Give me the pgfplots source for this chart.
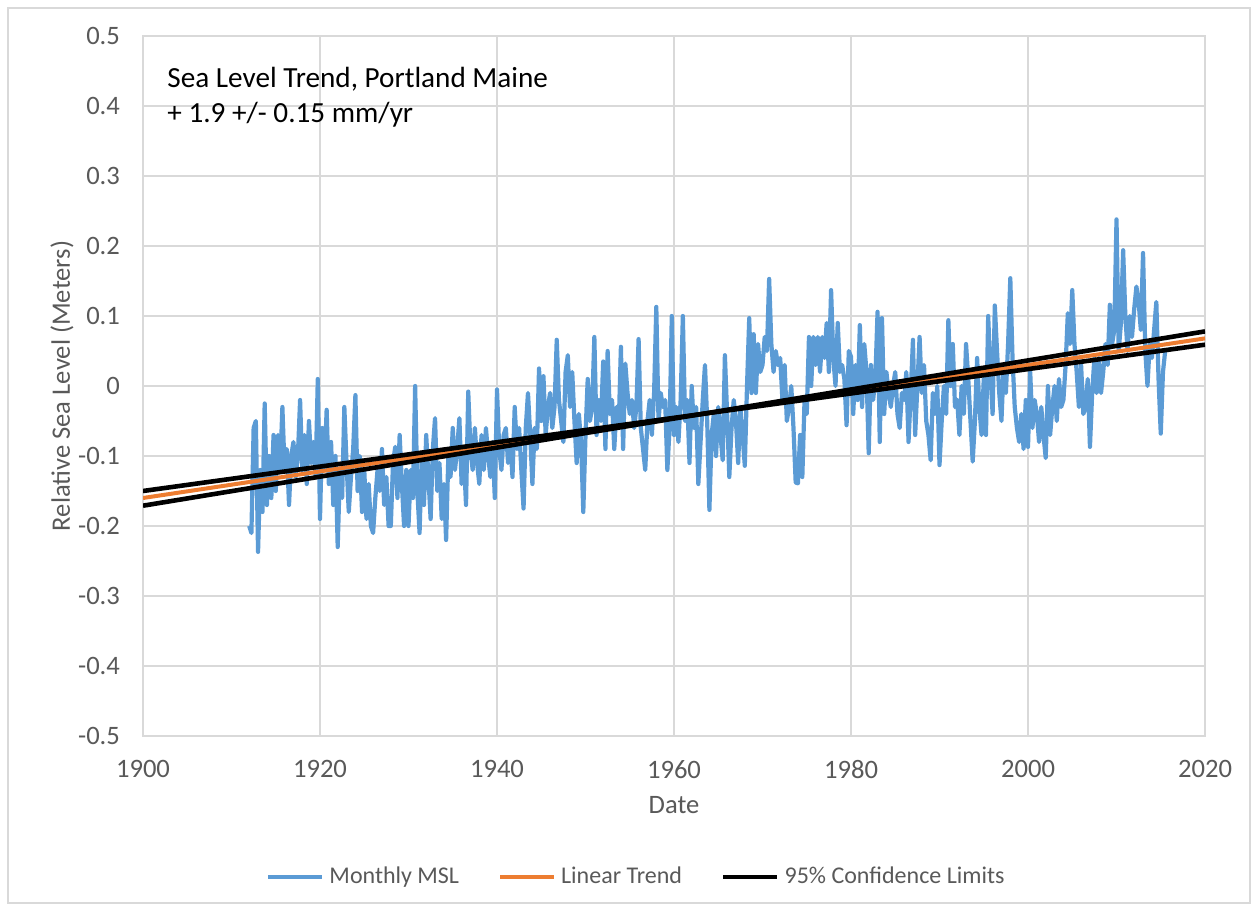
\documentclass[border=0pt]{standalone}
\usepackage{fontspec}
\setmainfont{Carlito}
\usepackage{pgfplots}
\pgfplotsset{compat=1.18}
\usepackage{pgfplotstable}

\definecolor{mslblue}{HTML}{5B9BD5}
\definecolor{trendorange}{HTML}{ED7D31}
\definecolor{gridgray}{HTML}{D9D9D9}
\definecolor{textgray}{HTML}{595959}

% monthly mean sea level (about four values a year)
\pgfplotstableread[row sep=\\]{
x y\\
1912.00 -0.20\\ 1912.25 -0.21\\ 1912.50 -0.06\\ 1912.75 -0.05\\
1913.00 -0.237\\ 1913.25 -0.12\\ 1913.50 -0.18\\ 1913.75 -0.025\\
1914.00 -0.17\\ 1914.25 -0.10\\ 1914.50 -0.16\\ 1914.75 -0.07\\
1915.00 -0.15\\ 1915.25 -0.07\\ 1915.50 -0.12\\ 1915.75 -0.03\\
1916.00 -0.12\\ 1916.25 -0.09\\ 1916.50 -0.17\\ 1916.75 -0.10\\
1917.00 -0.08\\ 1917.25 -0.13\\ 1917.50 -0.10\\ 1917.75 -0.02\\
1918.00 -0.12\\ 1918.25 -0.07\\ 1918.50 -0.14\\ 1918.75 -0.05\\
1919.00 -0.11\\ 1919.25 -0.08\\ 1919.50 -0.13\\ 1919.75 0.01\\
1920.00 -0.19\\ 1920.25 -0.06\\ 1920.50 -0.12\\ 1920.75 -0.034\\
1921.00 -0.14\\ 1921.25 -0.08\\ 1921.50 -0.17\\ 1921.75 -0.10\\
1922.00 -0.23\\ 1922.25 -0.12\\ 1922.50 -0.16\\ 1922.75 -0.03\\
1923.00 -0.11\\ 1923.25 -0.18\\ 1923.50 -0.13\\ 1923.75 -0.09\\
1924.00 -0.013\\ 1924.25 -0.15\\ 1924.50 -0.10\\ 1924.75 -0.18\\
1925.00 -0.12\\ 1925.25 -0.19\\ 1925.50 -0.14\\ 1925.75 -0.20\\
1926.00 -0.21\\ 1926.25 -0.16\\ 1926.50 -0.12\\ 1926.75 -0.15\\
1927.00 -0.09\\ 1927.25 -0.17\\ 1927.50 -0.13\\ 1927.75 -0.20\\
1928.00 -0.20\\ 1928.25 -0.11\\ 1928.50 -0.087\\ 1928.75 -0.16\\
1929.00 -0.07\\ 1929.25 -0.14\\ 1929.50 -0.20\\ 1929.75 -0.12\\
1930.00 -0.20\\ 1930.25 -0.12\\ 1930.50 -0.16\\ 1930.75 0.00\\
1931.00 -0.15\\ 1931.25 -0.21\\ 1931.50 -0.10\\ 1931.75 -0.17\\
1932.00 -0.07\\ 1932.25 -0.13\\ 1932.50 -0.19\\ 1932.75 -0.09\\
1933.00 -0.046\\ 1933.25 -0.15\\ 1933.50 -0.11\\ 1933.75 -0.19\\
1934.00 -0.14\\ 1934.25 -0.22\\ 1934.50 -0.10\\ 1934.75 -0.13\\
1935.00 -0.06\\ 1935.25 -0.12\\ 1935.50 -0.09\\ 1935.75 -0.046\\
1936.00 -0.14\\ 1936.25 -0.10\\ 1936.50 -0.17\\ 1936.75 -0.008\\
1937.00 -0.09\\ 1937.25 -0.12\\ 1937.50 -0.06\\ 1937.75 -0.11\\
1938.00 -0.14\\ 1938.25 -0.07\\ 1938.50 -0.12\\ 1938.75 -0.06\\
1939.00 -0.10\\ 1939.25 -0.13\\ 1939.50 -0.08\\ 1939.75 -0.16\\
1940.00 -0.005\\ 1940.25 -0.09\\ 1940.50 -0.12\\ 1940.75 -0.07\\
1941.00 -0.06\\ 1941.25 -0.11\\ 1941.50 -0.08\\ 1941.75 -0.13\\
1942.00 -0.03\\ 1942.25 -0.09\\ 1942.50 -0.06\\ 1942.75 -0.12\\
1943.00 -0.175\\ 1943.25 -0.06\\ 1943.50 -0.01\\ 1943.75 -0.07\\
1944.00 -0.14\\ 1944.25 -0.06\\ 1944.50 -0.09\\ 1944.75 0.025\\
1945.00 -0.05\\ 1945.25 0.014\\ 1945.50 -0.07\\ 1945.75 -0.03\\
1946.00 -0.01\\ 1946.25 -0.06\\ 1946.50 -0.03\\ 1946.75 0.066\\
1947.00 -0.02\\ 1947.25 -0.05\\ 1947.50 -0.08\\ 1947.75 0.02\\
1948.00 0.044\\ 1948.25 -0.03\\ 1948.50 0.02\\ 1948.75 -0.05\\
1949.00 -0.11\\ 1949.25 -0.04\\ 1949.50 -0.08\\ 1949.75 -0.18\\
1950.00 -0.07\\ 1950.25 0.01\\ 1950.50 -0.05\\ 1950.75 -0.03\\
1951.00 0.07\\ 1951.25 -0.07\\ 1951.50 -0.02\\ 1951.75 -0.05\\
1952.00 0.035\\ 1952.25 -0.09\\ 1952.50 0.05\\ 1952.75 -0.04\\
1953.00 -0.02\\ 1953.25 -0.09\\ 1953.50 -0.03\\ 1953.75 -0.06\\
1954.00 0.056\\ 1954.25 -0.09\\ 1954.50 0.032\\ 1954.75 -0.01\\
1955.00 -0.04\\ 1955.25 -0.02\\ 1955.50 -0.06\\ 1955.75 -0.03\\
1956.00 0.067\\ 1956.25 -0.06\\ 1956.50 -0.09\\ 1956.75 -0.12\\
1957.00 -0.05\\ 1957.25 -0.02\\ 1957.50 -0.07\\ 1957.75 -0.01\\
1958.00 0.113\\ 1958.25 -0.05\\ 1958.50 -0.01\\ 1958.75 -0.03\\
1959.00 -0.02\\ 1959.25 -0.12\\ 1959.50 -0.06\\ 1959.75 0.10\\
1960.00 -0.07\\ 1960.25 -0.03\\ 1960.50 -0.08\\ 1960.75 -0.02\\
1961.00 0.10\\ 1961.25 -0.05\\ 1961.50 -0.02\\ 1961.75 -0.11\\
1962.00 0.00\\ 1962.25 -0.06\\ 1962.50 -0.03\\ 1962.75 -0.14\\
1963.00 -0.08\\ 1963.25 -0.02\\ 1963.50 0.03\\ 1963.75 -0.05\\
1964.00 -0.177\\ 1964.25 -0.07\\ 1964.50 -0.04\\ 1964.75 -0.10\\
1965.00 -0.03\\ 1965.25 -0.07\\ 1965.50 -0.106\\ 1965.75 0.044\\
1966.00 -0.04\\ 1966.25 -0.13\\ 1966.50 -0.06\\ 1966.75 -0.02\\
1967.00 -0.05\\ 1967.25 -0.11\\ 1967.50 -0.03\\ 1967.75 -0.07\\
1968.00 -0.114\\ 1968.25 0.00\\ 1968.50 0.097\\ 1968.75 -0.01\\
1969.00 0.074\\ 1969.25 -0.01\\ 1969.50 0.06\\ 1969.75 0.02\\
1970.00 0.03\\ 1970.25 0.07\\ 1970.50 0.05\\ 1970.75 0.153\\
1971.00 0.06\\ 1971.25 0.02\\ 1971.50 0.05\\ 1971.75 0.03\\
1972.00 0.04\\ 1972.25 -0.02\\ 1972.50 0.03\\ 1972.75 -0.05\\
1973.00 -0.03\\ 1973.25 0.00\\ 1973.50 -0.06\\ 1973.75 -0.138\\
1974.00 -0.139\\ 1974.25 -0.07\\ 1974.50 -0.13\\ 1974.75 -0.02\\
1975.00 -0.04\\ 1975.25 0.07\\ 1975.50 0.00\\ 1975.75 0.07\\
1976.00 0.03\\ 1976.25 0.07\\ 1976.50 0.02\\ 1976.75 0.07\\
1977.00 0.04\\ 1977.25 0.09\\ 1977.50 0.02\\ 1977.75 0.137\\
1978.00 0.04\\ 1978.25 0.00\\ 1978.50 0.09\\ 1978.75 0.02\\
1979.00 0.03\\ 1979.25 0.01\\ 1979.50 -0.056\\ 1979.75 0.05\\
1980.00 0.042\\ 1980.25 -0.04\\ 1980.50 0.03\\ 1980.75 -0.02\\
1981.00 0.087\\ 1981.25 -0.03\\ 1981.50 0.06\\ 1981.75 0.02\\
1982.00 -0.096\\ 1982.25 0.03\\ 1982.50 -0.02\\ 1982.75 0.01\\
1983.00 0.106\\ 1983.25 -0.08\\ 1983.50 0.097\\ 1983.75 -0.04\\
1984.00 0.02\\ 1984.25 -0.01\\ 1984.50 -0.03\\ 1984.75 0.00\\
1985.00 0.02\\ 1985.25 -0.04\\ 1985.50 -0.06\\ 1985.75 -0.01\\
1986.00 -0.02\\ 1986.25 0.02\\ 1986.50 -0.08\\ 1986.75 -0.01\\
1987.00 0.066\\ 1987.25 -0.07\\ 1987.50 0.00\\ 1987.75 0.07\\
1988.00 -0.01\\ 1988.25 0.03\\ 1988.50 -0.05\\ 1988.75 -0.07\\
1989.00 -0.106\\ 1989.25 -0.01\\ 1989.50 -0.04\\ 1989.75 0.00\\
1990.00 -0.113\\ 1990.25 -0.05\\ 1990.50 0.00\\ 1990.75 -0.04\\
1991.00 0.094\\ 1991.25 0.00\\ 1991.50 0.06\\ 1991.75 -0.03\\
1992.00 -0.02\\ 1992.25 -0.07\\ 1992.50 0.00\\ 1992.75 -0.04\\
1993.00 0.06\\ 1993.25 0.01\\ 1993.50 -0.05\\ 1993.75 -0.108\\
1994.00 -0.05\\ 1994.25 0.04\\ 1994.50 -0.03\\ 1994.75 -0.07\\
1995.00 0.01\\ 1995.25 -0.07\\ 1995.50 0.10\\ 1995.75 0.02\\
1996.00 -0.04\\ 1996.25 0.115\\ 1996.50 0.05\\ 1996.75 -0.01\\
1997.00 -0.05\\ 1997.25 0.03\\ 1997.50 -0.01\\ 1997.75 0.06\\
1998.00 0.154\\ 1998.25 0.04\\ 1998.50 -0.03\\ 1998.75 -0.06\\
1999.00 -0.08\\ 1999.25 -0.04\\ 1999.50 -0.09\\ 1999.75 -0.02\\
2000.00 -0.087\\ 2000.25 0.02\\ 2000.50 -0.06\\ 2000.75 -0.02\\
2001.00 -0.04\\ 2001.25 -0.08\\ 2001.50 -0.03\\ 2001.75 -0.07\\
2002.00 -0.103\\ 2002.25 0.00\\ 2002.50 -0.07\\ 2002.75 -0.03\\
2003.00 0.00\\ 2003.25 -0.05\\ 2003.50 0.01\\ 2003.75 -0.03\\
2004.00 -0.02\\ 2004.25 0.03\\ 2004.50 0.104\\ 2004.75 0.06\\
2005.00 0.137\\ 2005.25 0.06\\ 2005.50 0.02\\ 2005.75 -0.03\\
2006.00 0.03\\ 2006.25 -0.04\\ 2006.50 -0.03\\ 2006.75 0.01\\
2007.00 -0.087\\ 2007.25 -0.01\\ 2007.50 0.04\\ 2007.75 -0.01\\
2008.00 0.04\\ 2008.25 -0.01\\ 2008.50 0.02\\ 2008.75 0.06\\
2009.00 0.03\\ 2009.25 0.116\\ 2009.50 0.06\\ 2009.75 0.08\\
2010.00 0.238\\ 2010.25 0.05\\ 2010.50 0.09\\ 2010.75 0.194\\
2011.00 0.10\\ 2011.25 0.05\\ 2011.50 0.10\\ 2011.75 0.07\\
2012.00 0.11\\ 2012.25 0.142\\ 2012.50 0.12\\ 2012.75 0.08\\
2013.00 0.19\\ 2013.25 0.05\\ 2013.50 0.00\\ 2013.75 0.06\\
2014.00 0.04\\ 2014.25 0.08\\ 2014.50 0.12\\ 2014.75 0.01\\
2015.00 -0.068\\ 2015.25 0.02\\ 2015.50 0.05\\
}\msl

\begin{document}
\begin{tikzpicture}
\useasboundingbox (-71.5pt,-87.5pt) rectangle (557.5pt,368pt);
\draw[gridgray, line width=0.8pt] (-67.5pt,-83.5pt) rectangle (553.5pt,364pt);
\begin{axis}[
    at={(0,0)}, anchor=south west,
    scale only axis,
    width=531pt, height=350pt,
    xmin=1900, xmax=2020, ymin=-0.5, ymax=0.5,
    xtick={1900,1920,...,2020},
    ytick={-0.5,-0.4,...,0.5},
    grid=major,
    major grid style={gridgray, line width=0.8pt},
    axis line style={gridgray, line width=0.8pt},
    tick style={draw=none},
    /pgf/number format/assume math mode=true,
    ticklabel style={font=\fontsize{13.3}{15}\selectfont, text=textgray},
    xticklabel style={/pgf/number format/1000 sep={}, yshift=-8.5pt},
    yticklabel style={/pgf/number format/fixed, /pgf/number format/precision=1, xshift=-8pt},
    xlabel={Date},
    ylabel={Relative Sea Level (Meters)},
    label style={font=\fontsize{13.3}{15}\selectfont, text=textgray},
    xlabel style={at={(axis description cs:0.5,-0.0986)}, anchor=center},
    ylabel style={at={(axis description cs:-0.0763,0.5)}, anchor=center},
    legend columns=3,
    legend style={at={(axis description cs:0.466,-0.2014)}, anchor=center,
        draw=none, fill=none, font=\fontsize{12}{14}\selectfont, text=textgray,
        /tikz/every even column/.append style={column sep=17pt},
        nodes={inner sep=2.5pt}},
    legend image code/.code={\draw[#1] (0pt,0pt) -- (27pt,0pt);},
]
\addplot[mslblue, line width=2.1pt, line join=round] table[x=x, y=y] {\msl};
\addlegendentry{Monthly MSL}
\addplot[trendorange, line width=2pt] coordinates {(1900,-0.160) (2020,0.068)};
\addlegendentry{Linear Trend}
\addplot[black, line width=2.3pt] coordinates {(1900,-0.150) (2020,0.059)};
\addlegendentry{95\% Confidence Limits}
\addplot[black, line width=2.3pt, forget plot] coordinates {(1900,-0.171) (2020,0.078)};
\node[anchor=north west, align=left, font=\fontsize{14.6}{17.5}\selectfont, inner sep=0pt]
    at (rel axis cs:0,1) [xshift=12pt, yshift=-15.5pt]
    {Sea Level Trend, Portland Maine\\+ 1.9 +/- 0.15 mm/yr};
\end{axis}
\end{tikzpicture}
\end{document}
